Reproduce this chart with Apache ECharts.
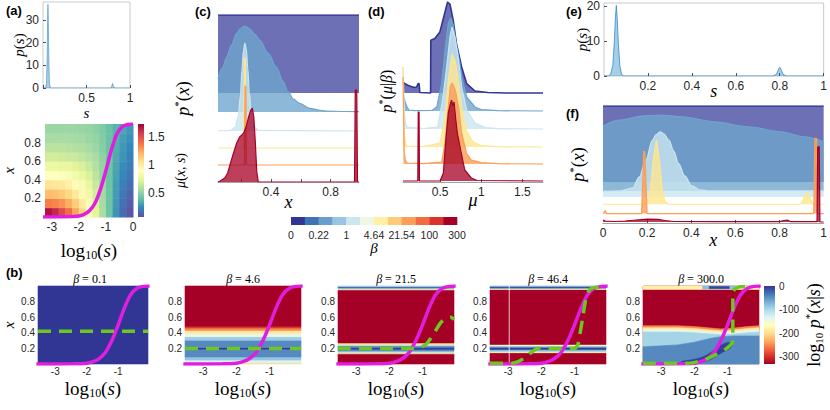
<!DOCTYPE html>
<html><head><meta charset="utf-8">
<script src="https://cdn.jsdelivr.net/npm/echarts@6/dist/echarts.min.js"></script>
<style>html,body{margin:0;padding:0;background:#fff}#c{width:830px;height:410px}</style>
</head><body><div id="c"></div>
<script>
// ================= DATA =================
// (a) top : p(s)
const psA_s = [0,0.03,0.04,0.048,0.053,0.057,0.061,0.066,0.074,0.085,0.78,0.79,0.8,0.81,0.82,1];
const psA_p = [0,0,2,15,30,37,30,15,2,0,0,0.8,2,0.8,0,0];
// (e) : p(s)
const psE_s = [0,0.02,0.03,0.04,0.047,0.052,0.056,0.06,0.065,0.072,0.08,0.09,0.77,0.785,0.795,0.8,0.805,0.815,0.83,1];
const psE_p = [0,0,0.5,3,10,17,20.3,17,10,3,0.5,0,0,0.5,2,2.5,2,0.5,0,0];
// (a) bottom : mu(x,s) field, rows = x centres, cols = log10 s centres
const muLogS = [-3.125,-2.875,-2.625,-2.375,-2.125,-1.875,-1.625,-1.375,-1.125,-0.875,-0.625,-0.375,-0.125];
const muX = [0.05,0.15,0.25,0.35,0.45,0.55,0.65,0.75,0.85,0.95];
const muGrid = [
 [1.68,1.62,1.52,1.40,1.25,1.09,0.92,0.74,0.57,0.42,0.27,0.15,0.09],
 [1.36,1.34,1.30,1.23,1.13,1.01,0.87,0.71,0.56,0.42,0.28,0.17,0.11],
 [1.18,1.17,1.14,1.09,1.02,0.93,0.81,0.68,0.55,0.42,0.29,0.19,0.13],
 [1.04,1.03,1.01,0.98,0.92,0.85,0.76,0.65,0.54,0.42,0.30,0.21,0.16],
 [0.90,0.90,0.88,0.86,0.82,0.77,0.70,0.62,0.53,0.42,0.31,0.23,0.18],
 [0.78,0.78,0.77,0.76,0.73,0.70,0.65,0.59,0.51,0.42,0.32,0.25,0.20],
 [0.68,0.68,0.67,0.66,0.65,0.63,0.60,0.56,0.50,0.42,0.33,0.27,0.22],
 [0.61,0.61,0.61,0.60,0.59,0.58,0.56,0.53,0.48,0.41,0.34,0.28,0.24],
 [0.56,0.56,0.56,0.56,0.55,0.55,0.53,0.51,0.47,0.41,0.35,0.30,0.26],
 [0.53,0.53,0.53,0.53,0.53,0.52,0.51,0.49,0.46,0.41,0.36,0.32,0.28]
];
const muTicks = [0.5,1,1.5];
// magenta sigmoid x(s)
const sigLogS = [-3.6,-2.4,-2.0,-1.8,-1.6,-1.4,-1.2,-1.0,-0.8,-0.6,-0.4,-0.2,0];
const sigX    = [0,0.002,0.01,0.03,0.07,0.15,0.3,0.5,0.72,0.89,0.97,0.995,1.0];

// beta colour bar
const betaTickLabels = ['0','0.22','1','4.64','21.54','100','300'];

// (c) p*(x) ridges : purple, blue, light blue, yellow, orange, red
const cOffsets = [89,70,51,34,17,0];
const cX = [
 [0.045,0.99],
 [0.045,0.075,0.103,0.135,0.17,0.2,0.225,0.26,0.29,0.325,0.38,0.436,0.48,0.514,0.55,0.592,0.658,0.72,0.77,0.9,0.99],
 [0.045,0.13,0.16,0.18,0.195,0.205,0.215,0.225,0.235,0.245,0.255,0.27,0.29,0.32,0.99],
 [0.045,0.217,0.221,0.229,0.233,0.99],
 [0.045,0.222,0.226,0.232,0.236,0.99],
 [0.045,0.06,0.09,0.11,0.125,0.145,0.17,0.19,0.205,0.22,0.235,0.25,0.265,0.275,0.285,0.295,0.305,0.315,0.96,0.965,0.975,0.98,0.99]
];
const cY = [
 [78,78],
 [33.7,44,55,67,78.7,84,86,83,78,72,59,45,31,20.3,13,8.7,3.7,2,1,0.5,0.3],
 [0,0.5,4,15,35,60,80,88,82,62,38,15,4,0.5,0],
 [0,0,90,90,0,0],
 [0,0,79,79,0,0],
 [0,1,4,9,17,27,39,45,47,50,56,65,72,74,65,40,10,0,0,92,92,0,0]
];
// (d) p*(mu|beta) ridges
const dOffsets = [89,71,53,35,18,1];
const dX = [
 [0.05,0.08,0.11,0.15,0.193,0.215,0.233,0.245,0.254,0.26,0.385,0.388,0.437,0.498,0.554,0.591,0.62,0.66,0.70,0.762,0.823,0.924,1.08,1.3,1.75],
 [0.05,0.06,0.08,0.1,0.12,0.2,0.4,0.46,0.52,0.56,0.60,0.632,0.66,0.70,0.74,0.762,0.823,0.924,1.0,1.2,1.75],
 [0.05,0.055,0.065,0.08,0.1,0.3,0.47,0.53,0.58,0.62,0.645,0.68,0.72,0.762,0.823,0.924,1.05,1.2,1.75],
 [0.05,0.055,0.065,0.08,0.1,0.3,0.5,0.56,0.60,0.645,0.69,0.73,0.762,0.82,0.9,1.0,1.2,1.75],
 [0.05,0.055,0.065,0.08,0.1,0.3,0.52,0.56,0.6,0.625,0.645,0.665,0.69,0.73,0.762,0.82,0.88,1.0,1.2,1.75],
 [0.05,0.23,0.235,0.245,0.25,0.5,0.54,0.57,0.60,0.625,0.64,0.655,0.67,0.69,0.71,0.75,0.80,0.88,0.95,1.75]
];
const dY = [
 [11,9,7.7,6.5,5.4,6,9.4,9.4,0.5,0,0,52.7,54.4,61,79,91,89,72.7,49,26,9.4,2,0.5,0,0],
 [14,14,8,4,1,0.3,0.5,4,28,61,88,93,86,66,48,34,14,4,1.5,0.3,0],
 [62,62,20,6,2,0.5,2,29,62,92,102,92,72,42,19,6,1.5,0.3,0],
 [80,80,15,4,1,0.3,4,31,67,93,84,61,40,16,5,1.5,0.3,0],
 [87,87,12,3,1,0.3,2,21,57,77,81,78,72,54,31,11,4,1.5,0.3,0],
 [0,0,69,69,0,0,8,41,68,77,81,75,79,62,48,31,11,3,0.5,0]
];
// (f) p*(x) ridges
const fOffsets = [41,32,26,18.7,9.4,1];
const fX = [
 [0,1],
 [0,0.075,0.179,0.254,0.358,0.507,0.657,0.806,0.91,1.0],
 [0,0.08,0.134,0.165,0.194,0.224,0.24,0.258,0.275,0.299,0.32,0.343,0.37,0.403,0.44,0.478,0.6,1],
 [0,0.19,0.2,0.215,0.228,0.242,0.255,0.268,0.28,0.295,0.89,0.9,0.912,0.925,0.938,0.95,1],
 [0,0.005,0.01,0.015,0.175,0.18,0.184,0.19,0.195,0.2,0.955,0.96,0.968,0.972,1],
 [0,0.01,0.05,0.1,0.15,0.2,0.25,0.28,0.32,0.5,0.8,0.82,0.835,0.85,0.97,0.973,0.98,0.983,1]
];
const fY = [
 [75.7,75.7],
 [64.7,70.7,74.7,75.7,74,69,64,59,54,49],
 [5.5,6,9,20,36.7,56.7,62,65,63,56.7,46,33.3,21,11,7,6,6,6],
 [0,0,2,15,45,64,45,15,3,0,0,1,7,12,7,0,0],
 [0,1,3,0,0,30,61.7,61.7,30,0,0,75,75,0,0],
 [2,1,0.5,1,2,2.8,2.6,1.5,0.5,0.3,0.3,1.5,2,0.3,0.3,75,75,0,0]
];

// (b) panels: log10 p*(x|s)
const bTitles = ['0.1','4.6','21.5','46.4','300.0'];
const bBands1 = [[0,1,0]];
const bBands2 = [[0,0.015,-200],[0.015,0.05,-130],[0.05,0.09,-85],[0.09,0.19,-45],[0.19,0.21,0],[0.21,0.305,-45],[0.305,0.35,-90],[0.35,0.39,-140],[0.39,0.43,-190],[0.43,0.46,-250],[0.46,0.48,-290],[0.48,1,-330]];
const bBands3 = [[0,0.13,-330],[0.13,0.145,-200],[0.145,0.165,-110],[0.165,0.185,-50],[0.185,0.215,-5],[0.215,0.235,-50],[0.235,0.25,-110],[0.25,0.27,-200],[0.27,0.95,-330],[0.95,0.96,-200],[0.96,0.975,-100],[0.975,0.99,-20],[0.99,1,-90]];
const bBands4 = [[0,0.145,-330],[0.145,0.16,-170],[0.16,0.18,-90],[0.18,0.19,-40],[0.19,0.21,-3],[0.21,0.22,-40],[0.22,0.235,-90],[0.235,0.25,-170],[0.25,0.955,-330],[0.955,0.965,-180],[0.965,0.975,-90],[0.975,0.99,-5],[0.99,1,-70]];
const b4GapS = [-2.97];
// panel 5: layered regions (value, top boundary over s knots)
const b5S = [-3.55,-2.5,-2.0,-1.5,-1.2,-0.8,-0.4,-0.05];
const b5Vals = [-250,-190,-140,-95,-45];
const b5Tops = [
 [0.49,0.49,0.48,0.46,0.45,0.46,0.48,0.49],
 [0.465,0.465,0.455,0.435,0.425,0.435,0.455,0.465],
 [0.44,0.44,0.43,0.41,0.40,0.41,0.43,0.44],
 [0.41,0.41,0.40,0.385,0.375,0.385,0.40,0.41],
 [0.22,0.245,0.28,0.33,0.35,0.36,0.36,0.36]
];
const b5BlobS = [-2.4,-2.0,-1.7,-1.5,-1.35,-1.2,-1.05,-0.92,-0.86,-0.9,-1.0,-1.15,-1.3,-1.5,-1.8,-2.1,-2.4];
const b5BlobX = [0.03,0.06,0.1,0.15,0.2,0.24,0.27,0.275,0.25,0.21,0.18,0.15,0.11,0.06,0.02,0.005,0.0];
const b5BlobVal = -5;
const b5TopRects = [[-3.55,-0.05,0.955,1,-180],[-1.75,-0.75,0.96,1,-80],[-1.55,-0.95,0.967,0.993,-8]];
// green dashed curves
const g1S=[-3.55,-0.05], g1X=[0.42,0.42];
const g2S=[-3.55,-0.05], g2X=[0.2,0.2];
const g3S=[-3.55,-1.3,-1.1,-0.9,-0.75,-0.6,-0.45,-0.3,-0.15,-0.05], g3X=[0.2,0.2,0.21,0.25,0.33,0.43,0.53,0.58,0.6,0.57];
const g4S=[-3.55,-2.9,-2.7,-2.5,-2.3,-2.1,-1.0,-0.9,-0.85,-0.75,-0.65,-0.55,-0.4,-0.05], g4X=[0.01,0.01,0.03,0.08,0.15,0.2,0.2,0.25,0.35,0.6,0.85,0.95,0.98,0.98];
const g5S=[-3.55,-2.2,-1.9,-1.6,-1.4,-1.2,-1.0,-0.88,-0.84,-0.84,-0.75,-0.6,-0.25], g5X=[0.01,0.01,0.03,0.07,0.11,0.15,0.21,0.26,0.3,0.92,0.97,0.99,0.99];
const bCbarTicks = [0,-100,-200,-300];

// ================= STYLE / LAYOUT =================
const FONT='Liberation Sans', SERIF='Liberation Serif', TXT='#262626';
const SPECTRAL=['#5e4fa2','#3288bd','#66c2a5','#abdda4','#e6f598','#ffffbf','#fee08b','#fdae61','#f46d43','#d53e4f','#9e0142'];
const RDYLBU=['#a50026','#d73027','#f46d43','#fdae61','#fee090','#ffffbf','#e0f3f8','#abd9e9','#74add1','#4575b4','#313695'];
const BETA_PAL=['#313695','#4073b3','#6a9fcb','#98c6e0','#c9e6f1','#eef7e4','#fef1a6','#fdcb7a','#fb9e58','#f16b45','#d9342a','#a50026'];
const RIDGE_COL=['#313695','#6ea5cd','#c9e6f1','#fee68e','#fb9e58','#a50026'];
const RIDGE_OP=[0.71,0.79,0.8,0.8,0.8,0.75];
const MAG='#e01ee0', GREEN='#6ac81e';
const S_MIN_B=-3.55, S_MAX_B=-0.05;

function R(size){return {
  r:{fontFamily:SERIF,fontSize:size,color:'#000'},
  i:{fontFamily:SERIF,fontStyle:'italic',fontSize:size,color:'#000'},
  sub:{fontFamily:SERIF,fontSize:Math.round(size*0.62),color:'#000',verticalAlign:'bottom',lineHeight:Math.round(size*1.18)},
  sup:{fontFamily:SERIF,fontSize:Math.round(size*0.62),color:'#000',verticalAlign:'top',lineHeight:Math.round(size*1.18)}
};}
const T_LOG='{r|log}{sub|10}{r|(}{i|s}{r|)}';
const T_PS='{i|p}{r|(}{i|s}{r|)}';
const T_PX='{i|p}{sup|*}{r|(}{i|x}{r|)}';
const T_PMU='{i|p}{sup|*}{r|(}{i|μ}{r||}{i|β}{r|)}';
const T_MU='{i|μ}{r|(}{i|x}{r|, }{i|s}{r|)}';
const T_LOGP='{r|log}{sub|10}{r| }{i|p}{sup|*}{r|(}{i|x}{r||}{i|s}{r|)}';

const opt={animation:false,backgroundColor:'#fff',grid:[],xAxis:[],yAxis:[],series:[],visualMap:[],graphic:[]};
function grid(l,t,w,h,box){opt.grid.push({left:l,top:t,width:w,height:h,show:!!box,borderColor:'#bdbdbd',borderWidth:box?0.8:0,backgroundColor:'transparent'});return opt.grid.length-1;}
function ax(gi,min,max,o){return Object.assign({type:'value',gridIndex:gi,min:min,max:max,splitLine:{show:false},axisLine:{show:false},axisTick:{show:false},axisLabel:{show:false}},o||{});}
function lab(vals,size,ex){return Object.assign({show:true,customValues:vals,fontFamily:FONT,fontSize:size,color:TXT,margin:4},ex||{});}
function tk(vals){return {show:true,inside:true,length:3,customValues:vals,lineStyle:{color:TXT,width:0.8}};}
function nm(text,size,gap,rot){return {name:text,nameLocation:'middle',nameGap:gap,nameRotate:rot||0,nameMoveOverlap:false,nameTextStyle:{fontFamily:SERIF,fontSize:size,color:'#000',rich:R(size)}};}
function axLine(c){return {show:true,lineStyle:{color:c||'#8c8c8c',width:0.8}};}
function add(s){opt.series.push(Object.assign({animation:false,silent:true},s));return opt.series.length-1;}
function lineS(gi,xs,ys,o){return add(Object.assign({type:'line',xAxisIndex:gi,yAxisIndex:gi,symbol:'none',showSymbol:false,data:xs.map((x,i)=>[x,ys[i]])},o));}
function ridges(gi,X,Y,offs,smooth){
  for(let k=0;k<X.length;k++){
    const off=offs[k];
    lineS(gi,X[k],Y[k].map(v=>v+off),{
      smooth:smooth[k]?0.35:false,smoothMonotone:'x',
      lineStyle:{color:RIDGE_COL[k],width:k===0?1.6:1.2},
      areaStyle:{color:RIDGE_COL[k],opacity:RIDGE_OP[k],origin:off},z:2+k});
  }
}
function polyS(gi,layers){
  return add({type:'custom',coordinateSystem:'cartesian2d',xAxisIndex:gi,yAxisIndex:gi,
    data:layers.map((l,i)=>[i,l[0]]),
    renderItem:(p,api)=>{const L=layers[p.dataIndex];const c=api.visual('color');
      return {type:'polygon',shape:{points:L[1].map(q=>api.coord(q)),smooth:L[2]||0},style:{fill:c,stroke:c,lineWidth:0.6}};}});
}
function bandLayers(b){return b.map(r=>[r[2],[[S_MIN_B,r[0]],[S_MAX_B,r[0]],[S_MAX_B,r[1]],[S_MIN_B,r[1]]]]);}
function gradBar(gi,min,max,cols){
  return add({type:'custom',coordinateSystem:'cartesian2d',xAxisIndex:gi,yAxisIndex:gi,data:[[0,min,max]],
    renderItem:(p,api)=>{const a=api.coord([0,api.value(2)]);const b=api.coord([1,api.value(1)]);
      return {type:'rect',shape:{x:a[0],y:a[1],width:b[0]-a[0],height:b[1]-a[1]},
        style:{fill:{type:'linear',x:0,y:1,x2:0,y2:0,colorStops:cols.map((c,i)=>({offset:i/(cols.length-1),color:c}))}}};}});
}
function label(x,y,text,o){opt.graphic.push({type:'text',x:x,y:y,silent:true,style:Object.assign({text:text,fill:'#000'},o)});}

// ---------- (a) top ----------
let g=grid(43,2,87,86,true);
opt.xAxis.push(ax(g,0,1,Object.assign({axisLabel:lab([0.5,1],12),axisTick:tk([0,0.5,1])},nm('{i|s}',15,17))));
opt.yAxis.push(ax(g,0,38,Object.assign({axisLabel:lab([0,10,20,30],12),axisTick:tk([0,10,20,30])},nm(T_PS,15,17,90))));
lineS(g,psA_s,psA_p,{lineStyle:{color:'rgba(0,114,189,0.55)',width:0.8},areaStyle:{color:'rgba(0,114,189,0.5)'}});

// ---------- (a) heat ----------
g=grid(41,124,92,93,false);
opt.xAxis.push(ax(g,-3.25,0,Object.assign({axisLabel:lab([-3,-2,-1,0],12)},nm(T_LOG,19,22))));
opt.yAxis.push(ax(g,0,1,Object.assign({axisLabel:lab([0.2,0.4,0.6,0.8],12)},nm('{i|x}',15,29,90))));
const dS=muLogS[1]-muLogS[0], dXc=muX[1]-muX[0];
const heatData=[];muGrid.forEach((row,r)=>row.forEach((v,c)=>heatData.push([muLogS[c],muX[r],v])));
const heatIdx=add({type:'custom',coordinateSystem:'cartesian2d',xAxisIndex:g,yAxisIndex:g,data:heatData,
  renderItem:(p,api)=>{const q=api.coord([api.value(0),api.value(1)]);const sz=api.size([dS,dXc]);const c=api.visual('color');
    return {type:'rect',shape:{x:q[0]-sz[0]/2,y:q[1]-sz[1]/2,width:sz[0]+0.5,height:sz[1]+0.5},style:{fill:c}};}});
lineS(g,sigLogS,sigX,{smooth:0.3,lineStyle:{color:MAG,width:3.5},z:5});
opt.visualMap.push({type:'continuous',show:false,seriesIndex:[heatIdx],dimension:2,min:0.07,max:1.73,inRange:{color:SPECTRAL}});

// ---------- (a) colour bar ----------
g=grid(138,124,6,93,false);
opt.xAxis.push(ax(g,0,1));
opt.yAxis.push(ax(g,0.07,1.73,Object.assign({position:'right',axisLabel:lab(muTicks,12)},nm(T_MU,14,29,90))));
gradBar(g,0.07,1.73,SPECTRAL);

// ---------- (c) ----------
g=grid(218,15,141,167,false);
opt.xAxis.push(ax(g,0.045,0.99,Object.assign({axisLine:axLine(),axisLabel:lab([0.4,0.8],12),axisTick:tk([0.2,0.4,0.6,0.8])},nm('{i|x}',18,11))));
opt.yAxis.push(ax(g,0,167,nm(T_PX,18,25,90)));
ridges(g,cX,cY,cOffsets,[0,1,1,0,0,0]);

// ---------- (d) ----------
g=grid(403,0,140,182,false);
opt.xAxis.push(ax(g,0.05,1.75,Object.assign({axisLine:axLine(),axisLabel:lab([0.5,1,1.5],12),axisTick:tk([0.5,1,1.5])},nm('{i|μ}',18,9))));
opt.yAxis.push(ax(g,0,182,nm(T_PMU,16,7,90)));
ridges(g,dX,dY,dOffsets,[0,0,0,0,0,0]);

// ---------- beta colour bar ----------
g=grid(291,217,166,8,false);
opt.xAxis.push(ax(g,0,12,Object.assign({axisLabel:lab([0,2,4,6,8,10,12],10.5,{formatter:v=>betaTickLabels[Math.round(v/2)]})},nm('{i|β}',15,15))));
opt.yAxis.push(ax(g,0,1));
add({type:'custom',coordinateSystem:'cartesian2d',xAxisIndex:g,yAxisIndex:g,data:BETA_PAL.map((c,i)=>[i]),
  renderItem:(p,api)=>{const i=api.value(0);const a=api.coord([i,1]);const b=api.coord([i+1,0]);
    return {type:'rect',shape:{x:a[0],y:a[1],width:b[0]-a[0]+0.3,height:b[1]-a[1]},style:{fill:BETA_PAL[i]}};}});

// ---------- (e) ----------
g=grid(604,3,223,73,true);
opt.xAxis.push(ax(g,0,1,Object.assign({axisLabel:lab([0.2,0.4,0.6,0.8,1],12),axisTick:tk([0.2,0.4,0.6,0.8,1])},nm('{i|s}',18,6))));
opt.yAxis.push(ax(g,0,21,Object.assign({axisLabel:lab([0,10,20],12),axisTick:tk([0,10,20])},nm(T_PS,15,15,90))));
lineS(g,psE_s,psE_p,{lineStyle:{color:'rgba(0,114,189,0.6)',width:1},areaStyle:{color:'rgba(0,114,189,0.5)'}});

// ---------- (f) ----------
g=grid(603,106,224,117,false);
opt.xAxis.push(ax(g,0,1,Object.assign({axisLine:axLine(),axisLabel:lab([0,0.2,0.4,0.6,0.8,1],12),axisTick:tk([0.2,0.4,0.6,0.8])},nm('{i|x}',18,8))));
opt.yAxis.push(ax(g,0,116.7,nm(T_PX,18,15,90)));
ridges(g,fX,fY,fOffsets,[0,1,1,0,0,0]);

// ---------- (b) panels ----------
const bLeft=[32,185,338,490,643];
const bandIdx=[];
const greens=[[g1S,g1X],[g2S,g2X],[g3S,g3X],[g4S,g4X],[g5S,g5X]];
for(let k=0;k<5;k++){
  g=grid(bLeft[k],286,116,78,false);
  opt.xAxis.push(ax(g,S_MIN_B,S_MAX_B,Object.assign({axisLabel:lab([-3,-2,-1],10,{margin:2})},nm(T_LOG,19,13))));
  opt.yAxis.push(ax(g,0,1,Object.assign({axisLabel:lab([0.2,0.4,0.6,0.8],10,{margin:3})},k===0?nm('{i|x}',15,22,90):{})));
  let layers;
  if(k===0) layers=bandLayers(bBands1);
  else if(k===1) layers=bandLayers(bBands2);
  else if(k===2) layers=bandLayers(bBands3);
  else if(k===3) layers=bandLayers(bBands4);
  else {
    layers=[[-330,[[S_MIN_B,0],[S_MAX_B,0],[S_MAX_B,1],[S_MIN_B,1]]]];
    b5Tops.forEach((tops,j)=>{layers.push([b5Vals[j],[[b5S[0],0]].concat(b5S.map((s,i)=>[s,tops[i]])).concat([[b5S[b5S.length-1],0]])]);});
    layers.push([b5BlobVal,b5BlobS.map((s,i)=>[s,b5BlobX[i]]),0.4]);
    b5TopRects.forEach(r=>layers.push([r[4],[[r[0],r[2]],[r[1],r[2]],[r[1],r[3]],[r[0],r[3]]]]));
  }
  bandIdx.push(polyS(g,layers));
  if(k===3) lineS(g,[b4GapS[0],b4GapS[0]],[0,1],{lineStyle:{color:'rgba(255,255,255,0.75)',width:1},z:3});
  lineS(g,sigLogS,sigX,{smooth:0.3,lineStyle:{color:MAG,width:3.5},z:4});
  lineS(g,greens[k][0],greens[k][1],{smooth:k>=2?0.3:false,lineStyle:{color:GREEN,width:3.5,type:[13,8]},z:5});
  label(bLeft[k]+58,279,'{i|β}{r| = '+bTitles[k]+'}',{align:'center',verticalAlign:'middle',rich:R(12)});
}
opt.visualMap.push({type:'continuous',show:false,seriesIndex:bandIdx,dimension:1,min:-330,max:0,inRange:{color:RDYLBU}});

// ---------- (b) colour bar ----------
g=grid(764,286,11,78,false);
opt.xAxis.push(ax(g,0,1));
opt.yAxis.push(ax(g,-330,0,Object.assign({position:'right',axisLabel:lab(bCbarTicks,10,{margin:4})},nm(T_LOGP,18,28,90))));
gradBar(g,-330,0,RDYLBU);

// ---------- panel letters ----------
const bold={font:'bold 13px "Liberation Sans"',fill:'#000'};
label(6,4,'(a)',bold);label(6,266,'(b)',bold);label(195,5,'(c)',bold);
label(368,5,'(d)',bold);label(566,5,'(e)',bold);label(566,107,'(f)',bold);

const chart=echarts.init(document.getElementById('c'),null,{renderer:'svg',width:830,height:410});
chart.setOption(opt);
</script></body></html>
